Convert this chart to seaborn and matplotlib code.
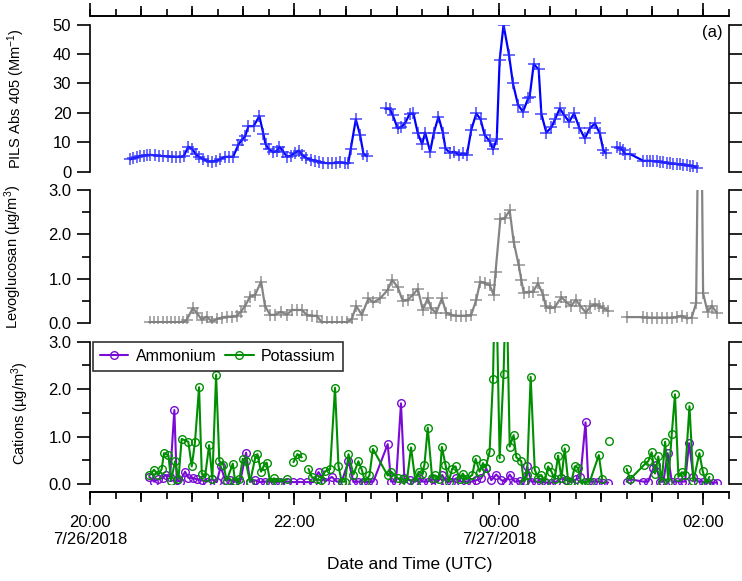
import numpy as np
import pandas as pd
import matplotlib
matplotlib.use("Agg")
import matplotlib.pyplot as plt
import matplotlib.dates as mdates
from matplotlib.lines import Line2D
from matplotlib.ticker import FixedLocator, MultipleLocator, FormatStrFormatter
import seaborn as sns

START = pd.Timestamp("2018-07-26 20:00")
NAN = np.nan

# PILS absorption at 405 nm: minutes after 20:00 UTC and Mm-1 (NaN = no data)
pils_min = [23.5, 25.5, 27.5, 29.5, 31.5, 33.5, 35.5, 38.0, 40.5, 43.0,
            45.5, 48.0, 50.5, 53.0, 55.0, 57.7, 60.0, 62.0, 64.0, 66.5,
            69.0, 71.5, 74.0, 76.5, 79.0, 81.5, 84.0, 87.0, 89.0, 91.0,
            93.0, 96.0, 99.4, 101.8, 103.0, 105.0, 107.6, 109.5, 111.2, 113.5,
            115.5, 118.0, 120.5, 122.5, 124.5, 127.0, 129.5, 132.0, 134.5, 137.0,
            139.5, 142.0, 144.5, 147.0, 149.5, 151.5, 153.0, 156.0, 158.5, 160.5,
            162.5, NAN,
            173.7, 176.1, 177.6, 180.6, 182.5, 185.1, 187.5, 189.8, 192.4, 194.9,
            196.7, 199.6, 201.8, 204.5, 207.1, 208.6, 211.0, 213.9, 216.5, 218.8,
            221.2, 223.7, 226.7, 229.2, 231.6, 234.5, 236.5, 238.7, 240.4, 242.7,
            245.9, 248.2, 251.2, 254.1, 257.1, 258.0, 260.4, 263.3, 264.9, 267.8,
            270.8, 273.0, 275.7, 278.2, 281.2, 284.1, 287.1, 290.4, 293.3, 296.3,
            299.2, 301.2, 302.7, NAN,
            309.0, 311.0, 312.5, 314.0, 317.0, 324.7, 326.7, 328.6, 330.5, 332.5,
            334.5, 336.5, 338.5, 340.4, 342.3, 344.3, 346.2, 348.2, 350.2, 352.2,
            354.1, 356.1]
pils_abs = [4.2, 4.5, 4.9, 5.3, 5.5, 5.7, 5.7, 5.6, 5.4, 5.3,
            5.2, 5.1, 5.1, 5.0, 5.3, 8.5, 7.7, 6.0, 5.0, 4.3,
            3.6, 3.4, 3.7, 4.3, 5.0, 5.1, 5.1, 9.1, 10.8, 12.0,
            15.5, 15.5, 18.9, 12.7, 9.4, 7.6, 6.6, 7.0, 8.5, 6.8,
            5.1, 5.5, 6.5, 7.2, 5.7, 4.6, 4.1, 3.8, 3.4, 3.0,
            2.9, 2.9, 3.0, 3.2, 2.9, 2.8, 7.7, 17.8, 12.5, 6.0,
            5.3, NAN,
            21.5, 21.2, 19.3, 14.7, 15.1, 16.7, 19.6, 19.8, 13.0, 9.4,
            13.3, 6.8, 13.3, 18.7, 13.3, 7.9, 6.5, 6.8, 5.7, 6.2,
            5.7, 14.2, 19.8, 17.8, 12.5, 10.4, 7.6, 11.0, 38.0, 49.9,
            39.7, 30.0, 22.7, 20.4, 24.9, 25.5, 36.6, 34.8, 19.6, 13.3,
            15.1, 18.0, 21.5, 19.3, 17.0, 19.8, 15.0, 11.3, 14.7, 16.4,
            13.0, 7.4, 6.2, NAN,
            8.3, 8.0, 7.4, 6.0, 6.0, 3.7, 3.7, 3.7, 3.6, 3.5,
            3.3, 3.2, 3.0, 2.8, 2.7, 2.6, 2.5, 2.4, 2.2, 2.0,
            1.8, 1.4]

# Levoglucosan (ug/m3)
levo_min = [35.2, 37.6, 40.1, 42.7, 45.0, 47.4, 49.9, 52.3, 54.8, 56.8,
            60.3, 62.6, 65.6, 68.5, 71.4, 74.4, 77.3, 80.2, 83.2, 86.1,
            88.5, 91.0, 93.9, 96.9, 100.4, 102.7, 105.7, 108.6, 112.1, 115.5,
            118.4, 121.3, 124.3, 127.2, 130.1, 133.1, 136.0, 138.9, 141.9, 144.8,
            147.7, 150.7, 153.6, 156.2, 159.5, 163.4, 166.3, 170.3, 174.7, 177.3,
            180.6, 183.5, 186.5, 189.4, 192.4, 195.3, 198.2, 200.2, 203.1, 206.5,
            209.0, 212.0, 214.9, 217.8, 220.8, 223.7, 226.7, 229.0, 232.0, 234.5,
            236.9, 238.0, 240.8, 243.3, 246.3, 248.6, 251.6, 253.1, 254.5, 257.5,
            260.0, 262.9, 265.9, 267.5, 269.8, 272.7, 276.7, 279.6, 282.5, 285.1,
            287.8, 291.0, 293.7, 296.3, 298.8, 301.2, 304.1, NAN,
            314.9, 324.7, 326.7, 329.6, 332.5, 335.5, 338.4, 341.4, 344.3, 347.3,
            350.2, 353.1, 355.7, 358.0, 359.8, 362.4, 364.9, 367.8]
levo_conc = [0.02, 0.02, 0.02, 0.02, 0.02, 0.02, 0.02, 0.02, 0.02, 0.08,
             0.34, 0.24, 0.08, 0.15, 0.04, 0.09, 0.13, 0.15, 0.15, 0.17,
             0.26, 0.39, 0.60, 0.64, 0.94, 0.39, 0.19, 0.19, 0.26, 0.19,
             0.30, 0.30, 0.30, 0.19, 0.17, 0.17, 0.02, 0.02, 0.02, 0.02,
             0.02, 0.03, 0.09, 0.39, 0.19, 0.56, 0.47, 0.56, 0.75, 0.98,
             0.81, 0.51, 0.53, 0.64, 0.77, 0.30, 0.56, 0.34, 0.23, 0.56,
             0.24, 0.19, 0.17, 0.17, 0.17, 0.19, 0.53, 0.94, 0.90, 0.86,
             0.64, 1.16, 2.34, 2.36, 2.54, 1.84, 1.31, 0.98, 0.69, 0.71,
             0.71, 0.90, 0.64, 0.38, 0.34, 0.36, 0.59, 0.47, 0.39, 0.53,
             0.39, 0.24, 0.38, 0.43, 0.39, 0.34, 0.28, NAN,
             0.14, 0.14, 0.13, 0.13, 0.13, 0.13, 0.13, 0.13, 0.14, 0.17,
             0.11, 0.13, 0.45, 8.0, 0.68, 0.26, 0.39, 0.24]

# Ammonium (ug/m3)
nh4_min = [34.8, 37.6, 40.1, 42.7, 44.6, 47.0, 49.5, 50.9, 52.8, 55.8,
           57.7, 60.3, 62.6, 65.6, 68.5, 71.4, 74.4, 76.7, 79.3, 82.2,
           85.1, 88.1, 91.6, 93.9, 96.9, 99.8, 102.7, 105.7, 108.6, 111.5,
           115.5, 119.4, 123.3, 127.2, 131.1, 134.1, 138.0, 141.9, 144.8, 147.7,
           151.7, 154.6, 157.5, 160.5, 163.4, 166.3, 174.7, 176.7, 179.6, 182.5,
           184.5, 187.5, 190.4, 193.3, 195.3, 198.2, 201.2, 204.1, 206.7, 209.0,
           212.0, 214.9, 217.8, 220.8, 223.7, 226.7, 229.6, 232.5, 235.5, 238.4,
           241.4, 243.9, 246.3, 249.2, 252.2, 255.1, 256.5, 259.0, 262.0, 264.9,
           267.8, 270.8, 273.7, 276.7, 279.6, 282.5, 285.5, 287.8, 290.8, 292.4,
           295.3, 298.2, 301.2, 304.1, NAN, 314.9, 316.9, 324.7, 327.6, 330.6,
           332.2, 334.5, 336.5, 339.0, 341.4, 344.3, 347.3, 349.2, 351.6, 354.1,
           357.1, 360.0, 362.9, 365.9, 367.8]
nh4_conc = [0.15, 0.05, 0.10, 0.13, 0.19, 0.15, 1.56, 0.08, 0.05, 0.26,
            0.13, 0.13, 0.10, 0.08, 0.05, 0.10, 0.04, 0.37, 0.08, 0.08,
            0.05, 0.05, 0.66, 0.05, 0.08, 0.04, 0.05, 0.05, 0.04, 0.05,
            0.05, 0.04, 0.04, 0.04, 0.04, 0.25, 0.05, 0.15, 0.05, 0.05,
            0.48, 0.04, 0.05, 0.05, 0.04, 0.05, 0.84, 0.05, 0.05, 1.70,
            0.12, 0.08, 0.05, 0.12, 0.05, 0.05, 0.10, 0.05, 0.19, 0.05,
            0.05, 0.12, 0.05, 0.05, 0.05, 0.08, 0.12, 0.33, 0.08, 0.20,
            0.08, 0.05, 0.20, 0.05, 0.06, 0.06, 0.37, 0.05, 0.05, 0.05,
            0.03, 0.03, 0.05, 0.12, 0.08, 0.05, 0.10, 0.15, 1.30, 0.05,
            0.05, 0.05, 0.03, 0.03, NAN, 0.05, 0.10, 0.05, 0.05, 0.33,
            0.40, 0.05, 0.05, 0.65, 0.05, 0.05, 0.05, 0.05, 0.86, 0.15,
            0.05, 0.05, 0.03, 0.03, 0.03]

# Potassium (ug/m3)
k_min = [34.8, 37.6, 40.1, 42.1, 43.4, 46.0, 47.6, 49.9, 51.9, 53.8,
         57.7, 59.7, 61.6, 64.0, 65.6, 67.5, 69.9, 71.8, 74.0, 75.9,
         78.3, 80.2, 83.8, 85.1, 87.7, 89.6, 91.4, 93.9, 96.9, 98.2,
         100.4, 101.8, 103.7, 105.7, 108.0, 110.6, 115.9, NAN, 119.4, 121.7,
         124.3, NAN, 128.2, 130.1, 133.0, 135.5, 138.0, 140.9, 143.8, 145.8,
         147.7, 149.7, 151.7, 154.6, 157.5, 159.5, 161.4, 164.0, 166.0, 174.7,
         176.7, 180.6, 183.5, 185.9, 188.4, 191.0, 192.9, 194.9, 196.3, 198.2,
         200.8, 202.7, 205.1, 206.5, 208.6, 210.6, 212.5, 214.5, 216.9, 218.8,
         220.8, 224.3, 226.3, 228.6, 230.6, 232.2, 234.5, 236.5, 238.0, 240.4,
         242.7, 244.3, 246.3, 248.6, 250.2, 253.1, 254.5, 256.5, 258.6, 261.0,
         262.9, 264.9, 266.9, 268.8, 270.8, 272.7, 274.7, 276.7, 278.6, 280.6,
         282.5, 284.5, 286.5, 288.4, 290.4, 293.3, 298.6, 300.6, NAN, 304.7,
         NAN, 314.9, 316.9, 325.1, 327.6, 329.6, 331.6, 333.5, 335.5, 337.5,
         339.4, 341.4, 343.3, 345.3, 347.3, 349.2, 351.8, 354.1, 357.6, 359.6,
         361.6, 363.5]
k_conc = [0.18, 0.30, 0.19, 0.32, 0.65, 0.61, 0.07, 0.48, 0.10, 0.95,
          0.89, 0.37, 0.88, 2.04, 0.22, 0.15, 0.82, 0.10, 2.30, 0.48,
          0.41, 0.07, 0.43, 0.07, 0.10, 0.53, 0.48, 0.04, 0.54, 0.63,
          0.26, 0.37, 0.45, 0.05, 0.12, 0.05, 0.10, NAN, 0.46, 0.63,
          0.56, NAN, 0.32, 0.15, 0.10, 0.08, 0.27, 0.31, 2.03, 0.38,
          0.05, 0.05, 0.63, 0.20, 0.48, 0.30, 0.05, 0.18, 0.74, 0.18,
          0.26, 0.12, 0.10, 0.05, 0.77, 0.05, 0.26, 0.22, 0.41, 1.19,
          0.12, 0.18, 0.10, 0.78, 0.41, 0.05, 0.32, 0.37, 0.10, 0.22,
          0.10, 0.19, 0.53, 0.26, 0.44, 0.34, 0.68, 2.21, 5.0, 0.54,
          2.32, 4.5, 0.79, 1.03, 0.56, 0.48, 0.05, 0.18, 2.26, 0.30,
          0.13, 0.19, 0.05, 0.37, 0.26, 0.10, 0.60, 0.12, 0.75, 0.06,
          0.05, 0.37, 0.34, 0.01, 0.05, 0.05, 0.61, 0.10, NAN, 0.91,
          NAN, 0.32, 0.10, 0.40, 0.48, 0.67, 0.22, 0.58, 0.05, 0.89,
          0.05, 1.05, 1.89, 0.15, 0.25, 0.19, 1.64, 0.06, 0.65, 0.27,
          0.01, 0.15]

TICK_LABELS = ["20:00\n7/26/2018", "22:00", "00:00\n7/27/2018", "02:00"]

BLUE = "#0000ff"
GRAY = "#858585"
PURPLE = "#7a0ad6"
GREEN = "#008f00"

sns.set_theme(style="ticks", rc={
    "axes.edgecolor": "black", "axes.labelcolor": "black",
    "xtick.color": "black", "ytick.color": "black", "text.color": "black",
    "axes.linewidth": 1.2,
})
plt.rcParams["font.family"] = ["Liberation Sans", "DejaVu Sans"]
plt.rcParams["mathtext.fontset"] = "custom"
plt.rcParams["mathtext.rm"] = "Liberation Sans"
plt.rcParams["mathtext.it"] = "Liberation Sans:italic"
plt.rcParams["mathtext.default"] = "regular"


def to_frame(minutes, values):
    m = np.asarray(minutes, float)
    v = np.asarray(values, float)
    seg = np.cumsum(np.isnan(v) | np.isnan(m))
    df = pd.DataFrame({"minutes": m, "value": v, "seg": seg}).dropna()
    df["time"] = START + pd.to_timedelta(df["minutes"], unit="min")
    return df


def hours(h):
    return mdates.date2num(START + pd.Timedelta(hours=h))


fig = plt.figure(figsize=(7.42, 5.81), dpi=100)
left, width = 90 / 742, 639 / 742
ax1 = fig.add_axes([left, 1 - 171.7 / 581, width, 147 / 581])
ax2 = fig.add_axes([left, 1 - 323.3 / 581, width, 133.3 / 581], sharex=ax1)
ax3 = fig.add_axes([left, 1 - 484 / 581, width, 142.3 / 581], sharex=ax1)

plus = dict(marker="+", markersize=9, markeredgewidth=1.1, linewidth=1.6)
ring = dict(marker="o", markersize=5.5, markerfacecolor="none",
            markeredgewidth=1.0, linewidth=1.5)

sns.lineplot(data=to_frame(pils_min, pils_abs), x="time", y="value",
             units="seg", estimator=None, sort=False, ax=ax1, color=BLUE,
             markeredgecolor=(0.15, 0.15, 1.0, 0.85), **plus)
sns.lineplot(data=to_frame(levo_min, levo_conc), x="time", y="value",
             units="seg", estimator=None, sort=False, ax=ax2, color=GRAY,
             markeredgecolor=(0.5, 0.5, 0.5, 0.85), **plus)
sns.lineplot(data=to_frame(nh4_min, nh4_conc), x="time", y="value",
             units="seg", estimator=None, sort=False, ax=ax3, color=PURPLE,
             markeredgecolor=PURPLE, **ring)
sns.lineplot(data=to_frame(k_min, k_conc), x="time", y="value",
             units="seg", estimator=None, sort=False, ax=ax3, color=GREEN,
             markeredgecolor=GREEN, **ring)

ax1.set_xlim(hours(0), hours(6.25))
ax1.set_ylim(0, 50)
ax2.set_ylim(0, 3)
ax3.set_ylim(0, 3)

ax1.yaxis.set_major_locator(MultipleLocator(10))
for ax in (ax2, ax3):
    ax.yaxis.set_major_locator(MultipleLocator(1))
    ax.yaxis.set_minor_locator(MultipleLocator(0.5))
    ax.yaxis.set_major_formatter(FormatStrFormatter("%.1f"))

for ax in (ax1, ax2, ax3):
    for side in ("top", "bottom"):
        ax.spines[side].set_visible(False)
    for side in ("left", "right"):
        ax.spines[side].set_visible(True)
        ax.spines[side].set_linewidth(1.2)
    ax.tick_params(axis="x", which="both", bottom=False, top=False,
                   labelbottom=False, labeltop=False)
    ax.tick_params(axis="y", which="both", left=True, right=True,
                   direction="out", width=1.2, labelsize=12, pad=4)
    ax.tick_params(axis="y", which="major", length=9.5)
    ax.tick_params(axis="y", which="minor", length=6)
    ax.set_xlabel("")
    ax.set_facecolor("none")


def time_axis(ax, loc, labels):
    main = ax.secondary_xaxis(loc)
    main.set_xticks([hours(h) for h in (0, 2, 4, 6)], labels)
    main.xaxis.set_minor_locator(FixedLocator([hours(h) for h in np.arange(0, 6.3, 0.5)]))
    main.tick_params(which="major", length=9.4, width=1.2, labelsize=12, pad=7)
    main.tick_params(which="minor", length=7.2, width=1.2)
    fine = ax.secondary_xaxis(loc)
    fine.set_xticks([hours(h) for h in np.arange(0, 6.3, 0.25)], [])
    fine.tick_params(length=5, width=1.2)
    for sec in (main, fine):
        for sp in sec.spines.values():
            sp.set_linewidth(1.2)
    return main


time_axis(ax1, 1 + 8.7 / 147, [])
bottom = time_axis(ax3, -8 / 142.3, TICK_LABELS)
bottom.set_xlabel("Date and Time (UTC)", fontsize=12.5, labelpad=7)

ax1.set_ylabel("PILS Abs 405 (Mm$^{-1}$)", fontsize=10.5)
ax2.set_ylabel("Levoglucosan (\u00b5g/m$^{3}$)", fontsize=10.5)
ax3.set_ylabel("Cations (\u00b5g/m$^{3}$)", fontsize=10.5)
ax1.yaxis.set_label_coords(-0.098, 0.5)
ax2.yaxis.set_label_coords(-0.104, 0.5)
ax3.yaxis.set_label_coords(-0.092, 0.5)

ax1.text(0.99, 0.995, "(a)", transform=ax1.transAxes, ha="right", va="top",
         fontsize=12)

handles = [Line2D([], [], color=PURPLE, markeredgecolor=PURPLE, **ring),
           Line2D([], [], color=GREEN, markeredgecolor=GREEN, **ring)]
leg = ax3.legend(handles, ["Ammonium", "Potassium"], loc="upper left",
                 bbox_to_anchor=(0.004, 1.0), borderaxespad=0, ncol=2,
                 fontsize=11.5, frameon=True, fancybox=False, handlelength=1.8,
                 handletextpad=0.45, columnspacing=0.55, borderpad=0.45)
leg.get_frame().set_edgecolor("black")
leg.get_frame().set_linewidth(1.2)

fig.savefig("out.png", dpi=100)
